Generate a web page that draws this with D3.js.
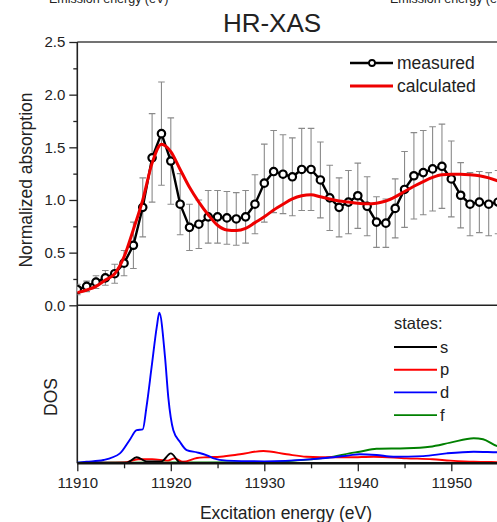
<!DOCTYPE html>
<html>
<head>
<meta charset="utf-8">
<script src="https://cdn.jsdelivr.net/npm/d3@7"></script>
<style>
  body { margin: 0; background: #fff; }
  text { font-family: "Liberation Sans", Arial, sans-serif; fill: #222; }
</style>
</head>
<body>
<div id="chart"></div>
<script>
// measured HR-XAS points (1 eV steps)
const measE = [11910, 11911, 11912, 11913, 11914, 11915, 11916, 11917, 11918, 11919,
  11920, 11921, 11922, 11923, 11924, 11925, 11926, 11927, 11928, 11929,
  11930, 11931, 11932, 11933, 11934, 11935, 11936, 11937, 11938, 11939,
  11940, 11941, 11942, 11943, 11944, 11945, 11946, 11947, 11948, 11949,
  11950, 11951, 11952, 11953, 11954, 11955];
const measV = [0.15, 0.18, 0.22, 0.26, 0.30, 0.40, 0.57, 0.93, 1.40, 1.63,
  1.37, 0.96, 0.74, 0.77, 0.84, 0.84, 0.83, 0.82, 0.84, 0.96,
  1.16, 1.27, 1.245, 1.22, 1.29, 1.29, 1.19, 1.02, 0.93, 0.98,
  1.04, 0.94, 0.79, 0.78, 0.92, 1.10, 1.23, 1.26, 1.295, 1.32,
  1.20, 1.045, 0.96, 0.98, 0.96, 0.98];
const measErr = [0.05, 0.05, 0.06, 0.07, 0.09, 0.12, 0.22, 0.28, 0.42, 0.49,
  0.41, 0.29, 0.22, 0.23, 0.25, 0.25, 0.25, 0.25, 0.25, 0.28,
  0.37, 0.39, 0.375, 0.37, 0.39, 0.39, 0.36, 0.31, 0.28, 0.30,
  0.31, 0.28, 0.24, 0.23, 0.28, 0.36, 0.41, 0.40, 0.40, 0.40,
  0.36, 0.31, 0.30, 0.29, 0.30, 0.30];
// calculated spectrum
const calcV = [0.12, 0.145, 0.18, 0.24, 0.30, 0.46, 0.72, 1.00, 1.35, 1.53,
  1.46, 1.29, 1.12, 0.98, 0.86, 0.76, 0.715, 0.71, 0.73, 0.785,
  0.84, 0.905, 0.96, 1.01, 1.04, 1.05, 1.03, 1.01, 0.99, 0.98,
  0.97, 0.965, 0.97, 0.99, 1.03, 1.08, 1.13, 1.175, 1.215, 1.24,
  1.245, 1.245, 1.24, 1.23, 1.21, 1.18];

// DOS (arb. units)
const sE = [11910, 11915.3, 11916.35, 11917.4, 11919.0, 11920.0, 11921.0, 11922, 11930, 11940, 11950, 11960];
const sV = [0.003, 0.004, 0.04, 0.013, 0.013, 0.066, 0.005, 0.003, 0.003, 0.003, 0.003, 0.003];
const pE = [11910, 11915, 11916.5, 11918, 11919.7, 11920.4, 11921.3, 11922.8, 11923.8, 11925.3, 11927.4, 11929.9,
  11932.4, 11934.5, 11937.4, 11939.1, 11941.7, 11945.2, 11948, 11949.9, 11952.4, 11955, 11960];
const pV = [0.002, 0.005, 0.027, 0.027, 0.018, 0.033, 0.01, 0.035, 0.04, 0.044, 0.06, 0.082,
  0.06, 0.044, 0.04, 0.04, 0.044, 0.033, 0.027, 0.018, 0.01, 0.008, 0.006];
const dE = [11910, 11911, 11912.8, 11914.56, 11915.6, 11916.35, 11917.0, 11917.4, 11917.95, 11918.5, 11918.77,
  11919.38, 11919.73, 11920.27, 11921.0, 11921.7, 11922.8, 11923.8, 11924.5, 11926, 11930, 11934.9,
  11937.4, 11939.1, 11940.2, 11942, 11943.8, 11947, 11949.5, 11952.4, 11954.9, 11960];
const dV = [0.004, 0.01, 0.022, 0.066, 0.155, 0.22, 0.225, 0.375, 0.64, 0.906, 1.0,
  0.707, 0.44, 0.22, 0.14, 0.088, 0.073, 0.055, 0.035, 0.018, 0.013, 0.026,
  0.04, 0.053, 0.06, 0.055, 0.044, 0.048, 0.066, 0.077, 0.073, 0.07];
const fE = [11910, 11920, 11930, 11934.9, 11937.4, 11939.1, 11940.2, 11942, 11945.2, 11947.7, 11949.9, 11952.4, 11953.4, 11954.9, 11960];
const fV = [0.004, 0.005, 0.008, 0.026, 0.044, 0.066, 0.077, 0.097, 0.1, 0.11, 0.137, 0.166, 0.16, 0.115, 0.08];

const xTicks = [11910, 11920, 11930, 11940, 11950];
const yTicks = [0.0, 0.5, 1.0, 1.5, 2.0, 2.5];

const W = 497, H = 522;
const plotLeft = 77.3, plotTop = 42, plotMid = 305.3, plotBottom = 463.3;

const svg = d3.select("#chart").append("svg")
    .attr("width", W)
    .attr("height", H);

const x = d3.scaleLinear().domain([11910, 11960]).range([plotLeft, plotLeft + 50 * 9.35]);
const y = d3.scaleLinear().domain([0, 2.5]).range([plotMid, plotTop]);
const yd = d3.scaleLinear().domain([0, 1.05]).range([plotBottom, plotMid]);

svg.append("clipPath").attr("id", "clip")
  .append("rect").attr("x", plotLeft).attr("y", plotTop).attr("width", W - plotLeft).attr("height", plotBottom - plotTop);

// fragments of the panels above (cut at the top edge as in the source figure)
svg.append("text").attr("x", 49).attr("y", 2.5).style("font-size", "12.5px").attr("fill", "#333").text("Emission energy (eV)");
svg.append("text").attr("x", 390).attr("y", 2.5).style("font-size", "12.5px").attr("fill", "#333").text("Emission energy (eV)");

// title
svg.append("text").attr("x", 272).attr("y", 31.5).attr("text-anchor", "middle")
    .style("font-size", "26px").text("HR-XAS");

// frame lines
svg.append("line").attr("x1", plotLeft).attr("x2", W).attr("y1", plotTop).attr("y2", plotTop)
    .attr("stroke", "#444").attr("stroke-width", 1.5);
svg.append("line").attr("x1", plotLeft).attr("x2", W).attr("y1", plotMid).attr("y2", plotMid)
    .attr("stroke", "#222").attr("stroke-width", 1.5);

// top y axis
const yAxis = svg.append("g").attr("transform", `translate(${plotLeft},0)`)
    .call(d3.axisLeft(y).tickValues(yTicks).tickFormat(d3.format(".1f")).tickSize(8).tickPadding(4));
yAxis.select(".domain").remove();
yAxis.selectAll("line").attr("stroke", "#222").attr("stroke-width", 1.3);
yAxis.selectAll("text").style("font-size", "15px").attr("fill", "#222");
svg.append("g").attr("transform", `translate(${plotLeft},0)`)
    .call(d3.axisLeft(y).tickValues([0.25, 0.75, 1.25, 1.75, 2.25]).tickFormat("").tickSize(4))
    .call(g => g.select(".domain").remove())
    .selectAll("line").attr("stroke", "#222").attr("stroke-width", 1.3);

// left spine
svg.append("line").attr("x1", plotLeft).attr("x2", plotLeft).attr("y1", plotTop).attr("y2", plotBottom)
    .attr("stroke", "#222").attr("stroke-width", 1.6);

// bottom x axis
const xAxis = svg.append("g").attr("transform", `translate(0,${plotBottom})`)
    .call(d3.axisBottom(x).tickValues(xTicks).tickFormat(d3.format("d")).tickSize(8).tickPadding(6));
xAxis.select(".domain").remove();
xAxis.selectAll("line").attr("stroke", "#222").attr("stroke-width", 1.3);
xAxis.selectAll("text").style("font-size", "15px").attr("fill", "#222");
svg.append("g").attr("transform", `translate(0,${plotBottom})`)
    .call(d3.axisBottom(x).tickValues([11915, 11925, 11935, 11945, 11955]).tickFormat("").tickSize(5))
    .call(g => g.select(".domain").remove())
    .selectAll("line").attr("stroke", "#222").attr("stroke-width", 1.3);

// axis titles
svg.append("text").attr("transform", "translate(32,180) rotate(-90)").attr("text-anchor", "middle")
    .style("font-size", "17.5px").text("Normalized absorption");
svg.append("text").attr("transform", "translate(57,397) rotate(-90)").attr("text-anchor", "middle")
    .style("font-size", "17.5px").text("DOS");
svg.append("text").attr("x", 286).attr("y", 519).attr("text-anchor", "middle")
    .style("font-size", "17.5px").text("Excitation energy (eV)");

// DOS curves
const dosG = svg.append("g").attr("clip-path", "url(#clip)");
const dosSeries = [
  {E: fE, V: fV, c: "#008000"},
  {E: pE, V: pV, c: "#ff0000"},
  {E: dE, V: dV, c: "#0000ff"},
  {E: sE, V: sV, c: "#000000"}
];
dosSeries.forEach(s => {
  dosG.append("path")
    .datum(s.E.map((e, i) => [e, s.V[i]]))
    .attr("fill", "none")
    .attr("stroke", s.c)
    .attr("stroke-width", 1.9)
    .attr("d", d3.line().x(d => x(d[0])).y(d => yd(d[1])).curve(d3.curveMonotoneX));
});

// bottom spine drawn over DOS baseline
svg.append("line").attr("x1", plotLeft).attr("x2", W).attr("y1", plotBottom).attr("y2", plotBottom)
    .attr("stroke", "#111").attr("stroke-width", 2.4);

// top panel
const topG = svg.append("g").attr("clip-path", "url(#clip)");
const meas = measE.map((e, i) => ({e, v: measV[i], err: measErr[i]}));

topG.selectAll(".err").data(meas).enter().append("path")
    .attr("class", "err")
    .attr("fill", "none").attr("stroke", "#8a8a8a").attr("stroke-width", 1.1)
    .attr("d", d => {
      const cx = x(d.e), y1 = y(d.v + d.err), y0 = y(d.v - d.err);
      return `M${cx - 3.3},${y1}H${cx + 3.3}M${cx},${y1}V${y0}M${cx - 3.3},${y0}H${cx + 3.3}`;
    });

topG.append("path").datum(meas)
    .attr("fill", "none").attr("stroke", "#000").attr("stroke-width", 2.4)
    .attr("d", d3.line().x(d => x(d.e)).y(d => y(d.v)));

topG.selectAll(".pt").data(meas).enter().append("circle")
    .attr("class", "pt")
    .attr("cx", d => x(d.e)).attr("cy", d => y(d.v)).attr("r", 3.7)
    .attr("fill", "#fff").attr("stroke", "#000").attr("stroke-width", 2.2);

topG.append("path").datum(measE.map((e, i) => [e, calcV[i]]))
    .attr("fill", "none").attr("stroke", "#ee0000").attr("stroke-width", 3)
    .attr("d", d3.line().x(d => x(d[0])).y(d => y(d[1])).curve(d3.curveMonotoneX));

// legend top
const lg = svg.append("g");
lg.append("line").attr("x1", 350).attr("x2", 393).attr("y1", 63).attr("y2", 63).attr("stroke", "#000").attr("stroke-width", 2.6);
lg.append("circle").attr("cx", 372).attr("cy", 63).attr("r", 3).attr("fill", "#fff").attr("stroke", "#000").attr("stroke-width", 1.8);
lg.append("text").attr("x", 397).attr("y", 69).style("font-size", "17.5px").text("measured");
lg.append("line").attr("x1", 350).attr("x2", 393).attr("y1", 86).attr("y2", 86).attr("stroke", "#ee0000").attr("stroke-width", 3);
lg.append("text").attr("x", 397).attr("y", 92).style("font-size", "17.5px").text("calculated");

// legend bottom
const states = ["s", "p", "d", "f"];
const stateColors = ["#000000", "#ff0000", "#0000ff", "#008000"];
const lg2 = svg.append("g");
lg2.append("text").attr("x", 394).attr("y", 329).style("font-size", "16.5px").text("states:");
states.forEach((s, i) => {
  const yy = 347 + i * 22.7;
  lg2.append("line").attr("x1", 394).attr("x2", 437).attr("y1", yy).attr("y2", yy)
     .attr("stroke", stateColors[i]).attr("stroke-width", 1.9);
  lg2.append("text").attr("x", 440).attr("y", yy + 5.5).style("font-size", "16.5px").text(s);
});
</script>
</body>
</html>
